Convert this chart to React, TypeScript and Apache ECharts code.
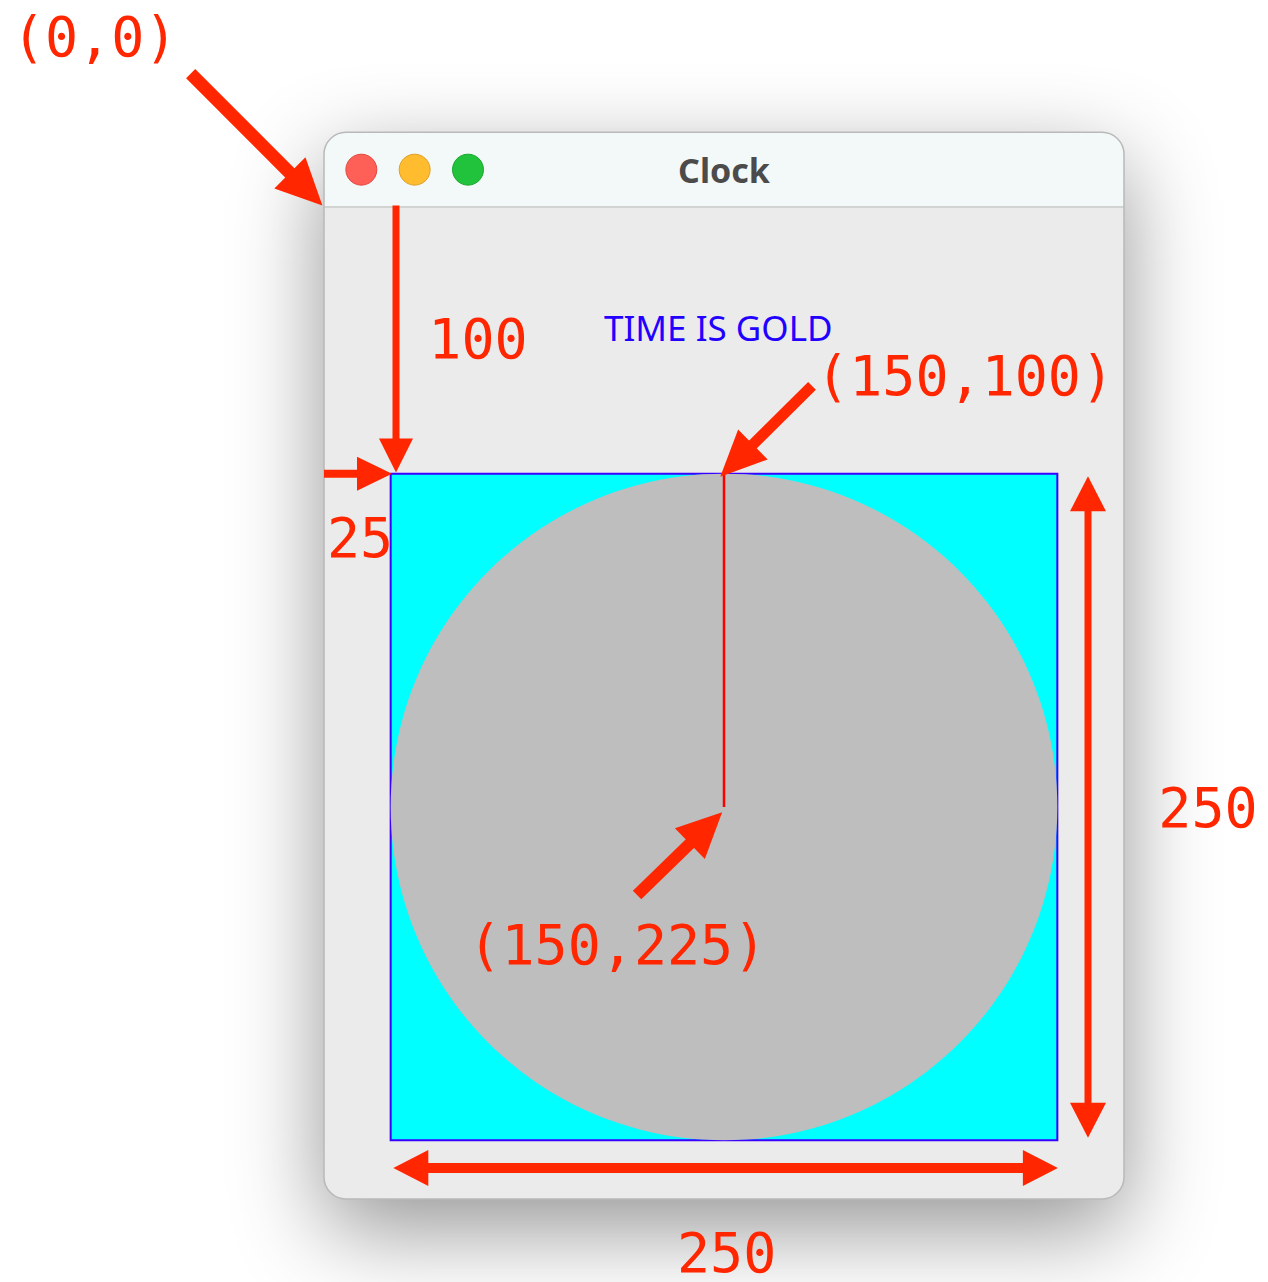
import React, { useEffect, useRef } from "react";
import * as echarts from "echarts";

// ---- diagram data, in the Java frame's own units (0,0 = top-left of content area) ----
const frameWidth = 300;
const frameContentHeight = 372;
const titleBarHeight = 28;
const frameTitle = "Clock";
const lightU = [14, 34, 54];
const lightColors = ["#fe5f57", "#febc2e", "#22c33c"];
const lightStrokes = ["#e2463f", "#dfa023", "#17a82c"];

const faceRect = [25, 100, 250, 250]; // x, y, width, height
const faceCenter = [150, 225];
const faceRadius = 125;
const handStart = [150, 100];
const handEnd = [150, 225];
const captionText = "TIME IS GOLD";
const captionPos = [105, 50];

// annotation arrows: x1, y1, x2, y2, heads (1 = at end, 2 = both ends)
const arrowX1 = [-50, 27, 0, 183, 286.5, 26, 117.4];
const arrowY1 = [-50, -0.6, 100, 67.1, 101, 360.4, 258];
const arrowX2 = [-0.6, 27, 25.5, 148.6, 286.5, 275.2, 149.3];
const arrowY2 = [-0.6, 99.6, 100, 101.2, 349, 360.4, 227];
const arrowHeads = [1, 1, 1, 1, 2, 2, 1];

// annotation labels (centre of text)
const labelTexts = ["(0,0)", "100", "(150,100)", "25", "250", "(150,225)", "250"];
const labelU = [-86, 57.75, 240.4, 13.5, 331.5, 110, 151];
const labelV = [-63.9, 49.5, 63.4, 124.1, 225.2, 276.8, 392.4];

// styles (pixels)
const arrowShaft = [13, 7, 8, 11, 7, 10, 12];
const arrowHeadLen = [46, 34, 35, 46, 35, 35, 45];
const arrowHeadWidth = [44, 34, 34, 42, 36, 36, 43];
const RED = "#ff2600";

function arrowShapes(p1: number[], p2: number[], i: number, heads: number) {
  const dx = p2[0] - p1[0];
  const dy = p2[1] - p1[1];
  const len = Math.hypot(dx, dy);
  const ux = dx / len;
  const uy = dy / len;
  const nx = -uy;
  const ny = ux;
  const L = arrowHeadLen[i];
  const W = arrowHeadWidth[i] / 2;
  const s = arrowShaft[i] / 2;
  const a = heads === 2 ? [p1[0] + ux * (L - 2), p1[1] + uy * (L - 2)] : p1;
  const b = [p2[0] - ux * (L - 2), p2[1] - uy * (L - 2)];
  const children: any[] = [
    {
      type: "polygon",
      shape: {
        points: [
          [a[0] + nx * s, a[1] + ny * s],
          [b[0] + nx * s, b[1] + ny * s],
          [b[0] - nx * s, b[1] - ny * s],
          [a[0] - nx * s, a[1] - ny * s],
        ],
      },
      style: { fill: RED },
    },
  ];
  const head = (tip: number[], dirx: number, diry: number) => {
    const bx = tip[0] - dirx * L;
    const by = tip[1] - diry * L;
    return {
      type: "polygon",
      shape: {
        points: [
          [tip[0], tip[1]],
          [bx + nx * W, by + ny * W],
          [bx - nx * W, by - ny * W],
        ],
      },
      style: { fill: RED },
    };
  };
  children.push(head(p2, ux, uy));
  if (heads === 2) children.push(head(p1, -ux, -uy));
  return children;
}

export default function App() {
  const ref = useRef<HTMLDivElement>(null);
  useEffect(() => {
    if (!ref.current) return;
    const chart = echarts.init(ref.current, undefined, { renderer: "svg" });

    const windowItem = (_p: any, api: any) => {
      const tl = api.coord([0, -titleBarHeight]);
      const br = api.coord([frameWidth, frameContentHeight]);
      const sep = api.coord([0, 0]);
      const w = br[0] - tl[0];
      const h = br[1] - tl[1];
      const children: any[] = [
        {
          type: "rect",
          shape: { x: tl[0], y: tl[1], width: w, height: h, r: 22 },
          style: {
            fill: "#ebebeb",
            shadowBlur: 90,
            shadowOffsetY: 30,
            shadowColor: "rgba(0,0,0,0.42)",
          },
        },
        {
          type: "rect",
          shape: { x: tl[0], y: tl[1], width: w, height: sep[1] - tl[1], r: [22, 22, 0, 0] },
          style: { fill: "#f3f8f8" },
        },
        {
          type: "line",
          shape: { x1: tl[0], y1: sep[1], x2: br[0], y2: sep[1] },
          style: { stroke: "#d2d4d4", lineWidth: 2 },
        },
        {
          type: "rect",
          shape: { x: tl[0], y: tl[1], width: w, height: h, r: 22 },
          style: { fill: "none", stroke: "#b9b9b9", lineWidth: 1.5 },
        },
      ];
      lightU.forEach((u, i) => {
        const c = api.coord([u, -titleBarHeight / 2]);
        children.push({
          type: "circle",
          shape: { cx: c[0], cy: c[1], r: 15.5 },
          style: { fill: lightColors[i], stroke: lightStrokes[i], lineWidth: 1 },
        });
      });
      const tc = api.coord([frameWidth / 2, -titleBarHeight / 2]);
      children.push({
        type: "text",
        x: tc[0],
        y: tc[1],
        style: {
          text: frameTitle,
          fill: "#4b4b4b",
          fontSize: 34,
          fontWeight: "bold",
          fontFamily: "Noto Sans",
          align: "center",
          verticalAlign: "middle",
        },
      });
      return { type: "group", children };
    };

    const faceItem = (_p: any, api: any) => {
      const a = api.coord([faceRect[0], faceRect[1]]);
      const b = api.coord([faceRect[0] + faceRect[2], faceRect[1] + faceRect[3]]);
      const c = api.coord(faceCenter);
      const e = api.coord([faceCenter[0] + faceRadius, faceCenter[1]]);
      const h1 = api.coord(handStart);
      const h2 = api.coord(handEnd);
      const cap = api.coord(captionPos);
      const capSize = 35;
      return {
        type: "group",
        children: [
          {
            type: "rect",
            shape: {
              x: Math.min(a[0], b[0]),
              y: Math.min(a[1], b[1]),
              width: Math.abs(b[0] - a[0]),
              height: Math.abs(b[1] - a[1]),
            },
            style: { fill: "#00ffff", stroke: "#3a00ff", lineWidth: 2 },
          },
          {
            type: "circle",
            shape: { cx: c[0], cy: c[1], r: Math.abs(e[0] - c[0]) },
            style: { fill: "#bebebe" },
          },
          {
            type: "line",
            shape: { x1: h1[0], y1: h1[1], x2: h2[0], y2: h2[1] },
            style: { stroke: "#ff0000", lineWidth: 2.5 },
          },
          {
            type: "text",
            x: cap[0],
            y: cap[1] - capSize * 0.37,
            style: {
              text: captionText,
              fill: "#2200ff",
              fontSize: capSize,
              fontFamily: "Noto Sans",
              align: "left",
              verticalAlign: "middle",
            },
          },
        ],
      };
    };

    const arrowItem = (p: any, api: any) => {
      const i = p.dataIndex;
      const p1 = api.coord([api.value(0), api.value(1)]);
      const p2 = api.coord([api.value(2), api.value(3)]);
      return { type: "group", children: arrowShapes(p1, p2, i, api.value(4)) };
    };

    const labelItem = (p: any, api: any) => {
      const c = api.coord([api.value(0), api.value(1)]);
      return {
        type: "text",
        x: c[0],
        y: c[1],
        style: {
          text: labelTexts[p.dataIndex],
          fill: RED,
          fontSize: 55,
          fontFamily: "DejaVu Sans Mono",
          align: "center",
          verticalAlign: "middle",
        },
      };
    };

    chart.setOption({
      animation: false,
      backgroundColor: "#ffffff",
      grid: { left: 316, top: 199, width: 800, height: 992 },
      xAxis: { type: "value", min: 0, max: frameWidth, show: false },
      yAxis: { type: "value", min: 0, max: frameContentHeight, inverse: true, show: false },
      tooltip: { show: false },
      series: [
        { type: "custom", z: 1, clip: false, silent: true, renderItem: windowItem, data: [[0, 0]] },
        { type: "custom", z: 2, clip: false, silent: true, renderItem: faceItem, data: [[faceCenter[0], faceCenter[1]]] },
        {
          type: "custom",
          z: 3,
          clip: false,
          silent: true,
          renderItem: arrowItem,
          data: arrowX1.map((x, i) => [x, arrowY1[i], arrowX2[i], arrowY2[i], arrowHeads[i]]),
        },
        {
          type: "custom",
          z: 4,
          clip: false,
          silent: true,
          renderItem: labelItem,
          data: labelU.map((u, i) => [u, labelV[i]]),
        },
      ],
    });
    return () => chart.dispose();
  }, []);
  return (
    <div
      ref={ref}
      style={{ position: "fixed", left: 0, top: 0, width: 1268, height: 1282, background: "#fff" }}
    />
  );
}
